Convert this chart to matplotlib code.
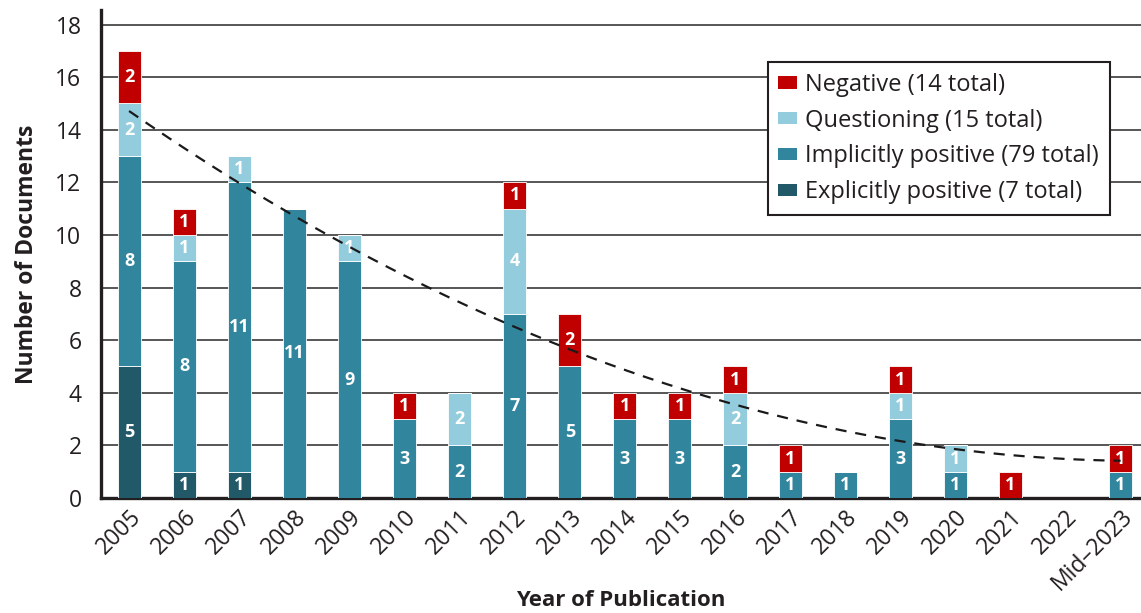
import numpy as np
import matplotlib.pyplot as plt
from matplotlib.patches import Patch

years = ["2005", "2006", "2007", "2008", "2009", "2010", "2011", "2012", "2013",
         "2014", "2015", "2016", "2017", "2018", "2019", "2020", "2021", "2022",
         "Mid\u20132023"]
explicit = [5, 1, 1, 0, 0, 0, 0, 0, 0, 0, 0, 0, 0, 0, 0, 0, 0, 0, 0]
implicit = [8, 8, 11, 11, 9, 3, 2, 7, 5, 3, 3, 2, 1, 1, 3, 1, 0, 0, 1]
questioning = [2, 1, 1, 0, 1, 0, 2, 4, 0, 0, 0, 2, 0, 0, 1, 1, 0, 0, 0]
negative = [2, 1, 0, 0, 0, 1, 0, 1, 2, 1, 1, 1, 1, 0, 1, 0, 1, 0, 1]

series = [
    ("Explicitly positive", explicit, "#215968"),
    ("Implicitly positive", implicit, "#31869E"),
    ("Questioning", questioning, "#93CDDD"),
    ("Negative", negative, "#C00000"),
]

plt.rcParams["font.family"] = ["Open Sans", "DejaVu Sans"]

fig = plt.figure(figsize=(11.41, 6.13), dpi=100)
ax = fig.add_axes([0.0885, 0.1876, 0.9115, 0.796])

x = np.arange(len(years))
bottom = np.zeros(len(years))
for name, vals, color in series:
    vals = np.array(vals, dtype=float)
    ax.bar(x, vals, 0.42, bottom=bottom, color=color, edgecolor="white",
           linewidth=0.6, zorder=3)
    for xi, b, v in zip(x, bottom, vals):
        if v > 0:
            ax.text(xi, b + v / 2, f"{int(v)}", ha="center", va="center",
                    color="white", fontsize=13, fontweight="bold", zorder=4)
    bottom += vals

# quadratic trend of the yearly totals
coef = np.polyfit(x, bottom, 2)
xs = np.linspace(0, len(years) - 1, 200)
ax.plot(xs, np.polyval(coef, xs), color="#1a1a1a", linestyle=(0, (5, 4)),
        linewidth=1.6, zorder=5)

ax.set_xlim(-0.51, len(years) - 1 + 0.37)
ax.set_ylim(0, 18.55)
ax.set_yticks(range(0, 19, 2))
ax.yaxis.grid(True, color="#3a3a3a", linewidth=1.2, zorder=0)
ax.set_axisbelow(True)
ax.tick_params(axis="both", length=0, labelsize=16.5, colors="#231f20")
ax.tick_params(axis="y", pad=14)
ax.set_xticks(x)
ax.set_xticklabels(years, rotation=45, ha="right", rotation_mode="anchor")
ax.tick_params(axis="x", pad=5)

for s in ["top", "right"]:
    ax.spines[s].set_visible(False)
ax.spines["left"].set_linewidth(2.4)
ax.spines["bottom"].set_linewidth(2.4)
ax.spines["left"].set_color("#231f20")
ax.spines["bottom"].set_color("#231f20")

ax.set_ylabel("Number of Documents", fontsize=16.5, fontweight="bold",
              color="#231f20", labelpad=12)
ax.set_xlabel("Year of Publication", fontsize=16, fontweight="bold",
              color="#231f20", labelpad=-4)

handles = []
for name, vals, color in reversed(series):
    handles.append(Patch(facecolor=color, edgecolor="none",
                         label=f"{name} ({sum(vals)} total)"))
leg = ax.legend(handles=handles, loc="upper left", bbox_to_anchor=(0.641, 0.893),
                borderaxespad=0, fontsize=17, fancybox=False, framealpha=1,
                edgecolor="#231f20", handlelength=0.8, handleheight=0.42,
                handletextpad=0.35, labelspacing=0.5, borderpad=0.45)
leg.get_frame().set_linewidth(1.5)
for t in leg.get_texts():
    t.set_color("#231f20")

fig.savefig("out.png", dpi=100)
